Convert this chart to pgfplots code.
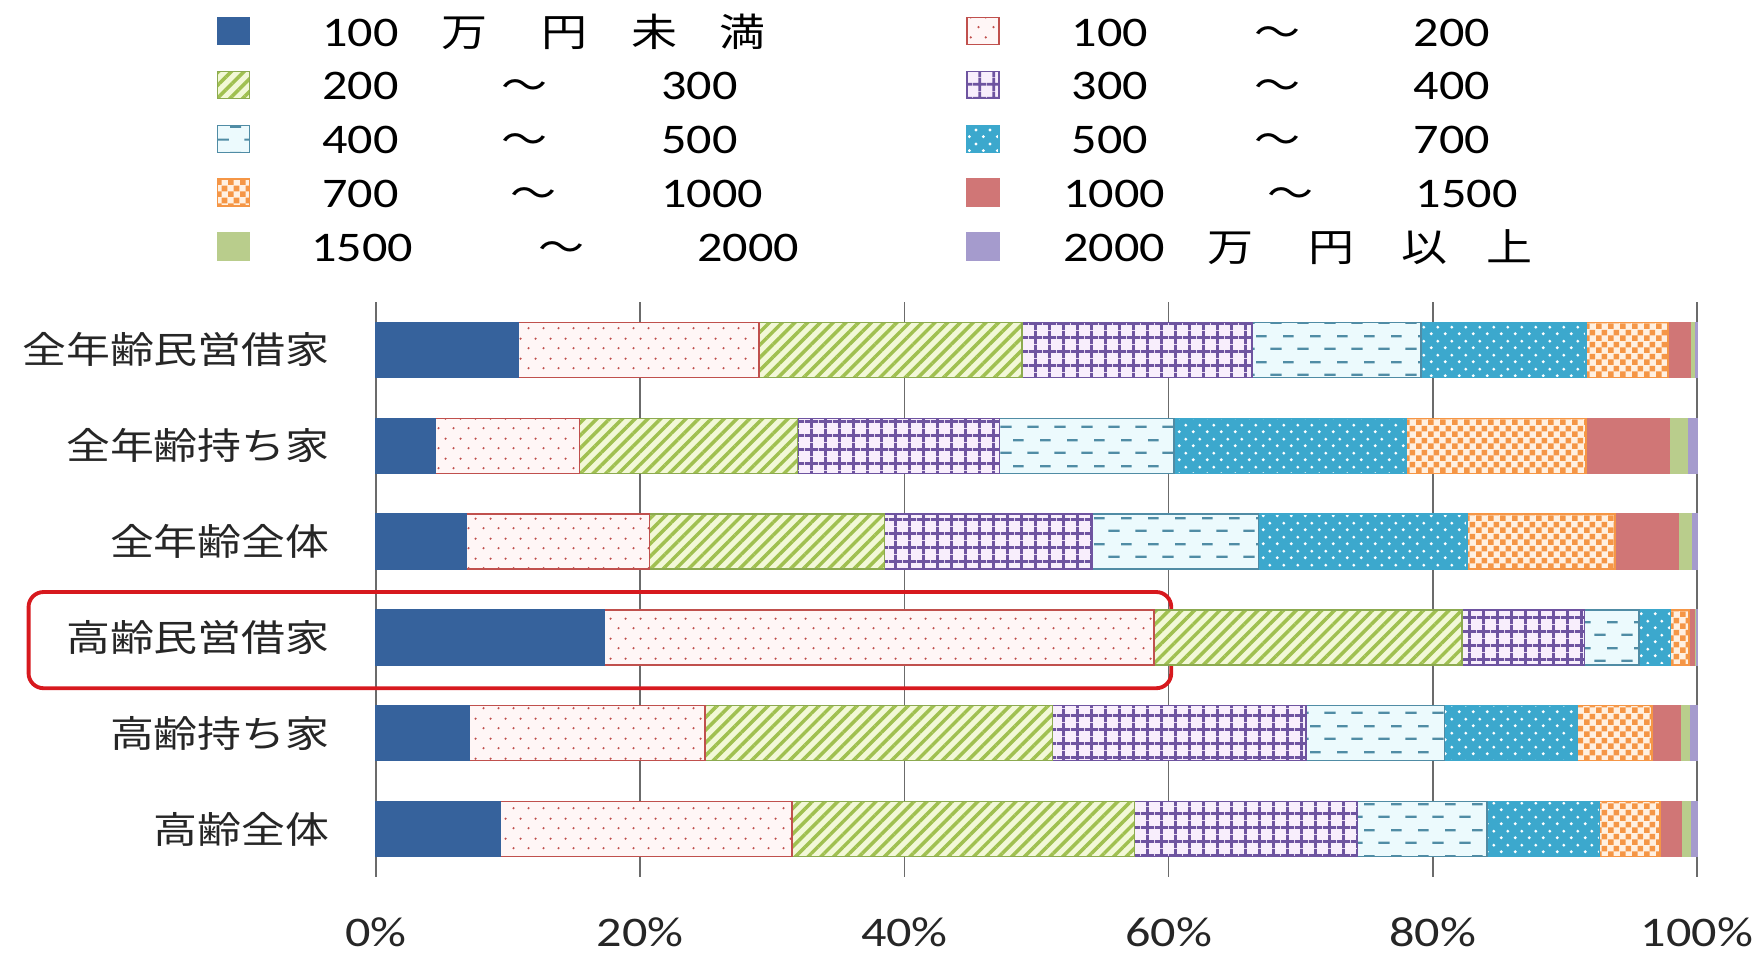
\documentclass[border=0pt]{standalone}
\usepackage{pgfplots}
\pgfplotsset{compat=1.18}
\usepackage{pgfplotstable}
\usepackage{fontspec}
\usetikzlibrary{patterns.meta}
\setmainfont{Carlito}[FakeStretch=1.19]
\newfontfamily\jp{Noto Sans CJK JP}[FakeStretch=1.19]

% series colours
\definecolor{cBlue}{RGB}{54,98,156}
\definecolor{cRed}{RGB}{192,80,77}
\definecolor{cRedBg}{RGB}{255,246,246}
\definecolor{cGreen}{RGB}{160,192,80}
\definecolor{cGreenBg}{RGB}{242,248,215}
\definecolor{cGreenLine}{RGB}{140,170,80}
\definecolor{cPurple}{RGB}{110,84,160}
\definecolor{cPurpleBg}{RGB}{248,238,252}
\definecolor{cTeal}{RGB}{80,140,165}
\definecolor{cTealBg}{RGB}{236,250,253}
\definecolor{cCyan}{RGB}{60,168,205}
\definecolor{cOrange}{RGB}{245,150,70}
\definecolor{cOrangeBg}{RGB}{255,240,225}
\definecolor{cRose}{RGB}{208,118,118}
\definecolor{cOlive}{RGB}{185,205,140}
\definecolor{cLav}{RGB}{165,155,205}
\definecolor{cMark}{RGB}{215,25,30}

% fill patterns
\tikzdeclarepattern{name=pdots, type=uncolored,
  bounding box={(0,0) and (1.5mm,2mm)}, tile size={(1.5mm,2mm)},
  code={\fill (0.375mm,0.5mm) circle (0.13mm); \fill (1.125mm,1.5mm) circle (0.13mm);}}
\tikzdeclarepattern{name=hdash, type=uncolored,
  bounding box={(0,0) and (2.7mm,2.6mm)}, tile size={(2.7mm,2.6mm)},
  code={\draw[line width=0.22mm] (0.15mm,0.65mm) -- (1.3mm,0.65mm);
        \draw[line width=0.22mm] (1.45mm,1.95mm) -- (2.55mm,1.95mm);}}
\tikzdeclarepattern{name=wdots, type=uncolored,
  bounding box={(0,0) and (1.4mm,1.4mm)}, tile size={(1.4mm,1.4mm)},
  code={\fill (0.35mm,0.35mm) circle (0.17mm); \fill (1.05mm,1.05mm) circle (0.17mm);}}
\tikzdeclarepattern{name=checks, type=uncolored,
  bounding box={(0,0) and (1.2mm,1.2mm)}, tile size={(1.2mm,1.2mm)},
  code={\fill (0,0) rectangle (0.6mm,0.6mm); \fill (0.6mm,0.6mm) rectangle (1.2mm,1.2mm);}}

% shares (%) by annual income class, one row per household group
\pgfplotstableread{
row s1   s2   s3   s4   s5   s6   s7   s8  s9  s10
0   10.8 18.2 19.9 17.4 12.8 12.5 6.2  1.7 0.3 0.2
1   4.5  10.9 16.5 15.3 13.2 17.6 13.6 6.3 1.4 0.7
2   6.8  13.9 17.8 15.7 12.6 15.8 11.2 4.8 1.0 0.4
3   17.3 41.6 23.3 9.3  4.1  2.4  1.4  0.4 0.1 0.1
4   7.1  17.8 26.3 19.2 10.5 10.0 5.7  2.1 0.7 0.6
5   9.4  22.1 25.9 16.9 9.8  8.5  4.6  1.6 0.7 0.5
}\incometable

% legend text pieces placed at fixed offsets
\newcommand{\Ln}[2]{\makebox[0pt][l]{\hspace*{#1}\fontsize{12}{14}\selectfont #2}}
\newcommand{\Lj}[2]{\makebox[0pt][l]{\hspace*{#1}\makebox[0pt][c]{\jp\fontsize{11}{14}\selectfont #2}}}
\newcommand{\Lentry}[1]{\makebox[58mm][l]{#1}}

\pgfplotsset{
  swatch/.style={legend image code/.code={\draw[##1] (0mm,-0.95mm) rectangle (3.2mm,1.75mm);}},
}

\begin{document}
\begin{tikzpicture}
\useasboundingbox (0,0) rectangle (176.4mm,95.2mm);
\begin{axis}[
  at={(37.6mm,7.5mm)}, anchor=south west,
  scale only axis, width=132.1mm, height=57.5mm,
  xbar stacked, bar width=5.5mm,
  xmin=0, xmax=100, ymin=-0.5, ymax=5.5, y dir=reverse,
  enlargelimits=false, clip=false,
  axis line style={draw=none},
  xtick={0,20,...,100},
  xticklabels={0\%,20\%,40\%,60\%,80\%,100\%},
  xmajorgrids, grid style={draw=black!58, line width=0.5pt},
  major tick length=0pt,
  ytick={0,...,5},
  yticklabels={全年齢民営借家,全年齢持ち家,全年齢全体,高齢民営借家,高齢持ち家,高齢全体},
  xticklabel style={font=\fontsize{12}{14}\selectfont, text=black!85,
    inner sep=0pt, yshift=-4.0mm},
  yticklabel style={font=\jp\fontsize{10.5}{12}\selectfont, text=black!85, xshift=-3.4mm},
  legend columns=2,
  legend cell align=left,
  legend style={at={(-0.12036,1.5007)}, anchor=north west,
    draw=none, fill=none, inner sep=0pt, outer sep=0pt,
    row sep=1.18mm, column sep=0pt,
    nodes={inner sep=0pt, text height=3.2mm, text depth=1mm},
    /tikz/every odd column/.append style={column sep=7.2mm},
    /tikz/every even column/.append style={column sep=6.4mm}},
]
\addplot[swatch, draw=cBlue, fill=cBlue, line width=0.4pt]
  table[x=s1, y=row]{\incometable};
\addlegendentry{\Lentry{\Ln{0mm}{100}\Lj{14.2mm}{万}\Lj{24.2mm}{円}\Lj{33.2mm}{未}\Lj{42.0mm}{満}}}
\addplot[swatch, draw=cRed, fill=cRedBg, line width=0.4pt,
  postaction={pattern=pdots, pattern color=cRed}]
  table[x=s2, y=row]{\incometable};
\addlegendentry{\Lentry{\Ln{0mm}{100}\Lj{20.6mm}{～}\Ln{34.2mm}{200}}}
\addplot[swatch, draw=cGreenLine, fill=cGreenBg, line width=0.4pt,
  postaction={pattern={Lines[angle=45,distance=0.9mm,line width=0.35mm]}, pattern color=cGreen}]
  table[x=s3, y=row]{\incometable};
\addlegendentry{\Lentry{\Ln{0mm}{200}\Lj{20.2mm}{～}\Ln{33.9mm}{300}}}
\addplot[swatch, draw=cPurple, fill=cPurpleBg, line width=0.4pt,
  postaction={pattern={Hatch[angle=0,distance=1.4mm,line width=0.3mm]}, pattern color=cPurple}]
  table[x=s4, y=row]{\incometable};
\addlegendentry{\Lentry{\Ln{0mm}{300}\Lj{20.6mm}{～}\Ln{34.2mm}{400}}}
\addplot[swatch, draw=cTeal, fill=cTealBg, line width=0.4pt,
  postaction={pattern=hdash, pattern color=cTeal}]
  table[x=s5, y=row]{\incometable};
\addlegendentry{\Lentry{\Ln{0mm}{400}\Lj{20.2mm}{～}\Ln{33.9mm}{500}}}
\addplot[swatch, draw=cCyan, fill=cCyan, line width=0.4pt,
  postaction={pattern=wdots, pattern color=white}]
  table[x=s6, y=row]{\incometable};
\addlegendentry{\Lentry{\Ln{0mm}{500}\Lj{20.6mm}{～}\Ln{34.2mm}{700}}}
\addplot[swatch, draw=cOrange, fill=cOrangeBg, line width=0.4pt,
  postaction={pattern=checks, pattern color=cOrange}]
  table[x=s7, y=row]{\incometable};
\addlegendentry{\Lentry{\Ln{0mm}{700}\Lj{21.1mm}{～}\Ln{33.9mm}{1000}}}
\addplot[swatch, draw=cRose, fill=cRose, line width=0.4pt]
  table[x=s8, y=row]{\incometable};
\addlegendentry{\Lentry{\Ln{-0.85mm}{1000}\Lj{21.9mm}{～}\Ln{34.4mm}{1500}}}
\addplot[swatch, draw=cOlive, fill=cOlive, line width=0.4pt]
  table[x=s9, y=row]{\incometable};
\addlegendentry{\Lentry{\Ln{-1.1mm}{1500}\Lj{23.9mm}{～}\Ln{37.5mm}{2000}}}
\addplot[swatch, draw=cLav, fill=cLav, line width=0.4pt]
  table[x=s10, y=row]{\incometable};
\addlegendentry{\Lentry{\Ln{-0.85mm}{2000}\Lj{15.9mm}{万}\Lj{26.0mm}{円}\Lj{35.3mm}{以}\Lj{43.8mm}{上}}}
% highlight frame around the elderly private-rental row
\draw[draw=cMark, line width=1.1pt, rounded corners=1.5mm]
  (axis cs:-26.3,2.526) rectangle (axis cs:60.2,3.53);
\end{axis}
\end{tikzpicture}
\end{document}
